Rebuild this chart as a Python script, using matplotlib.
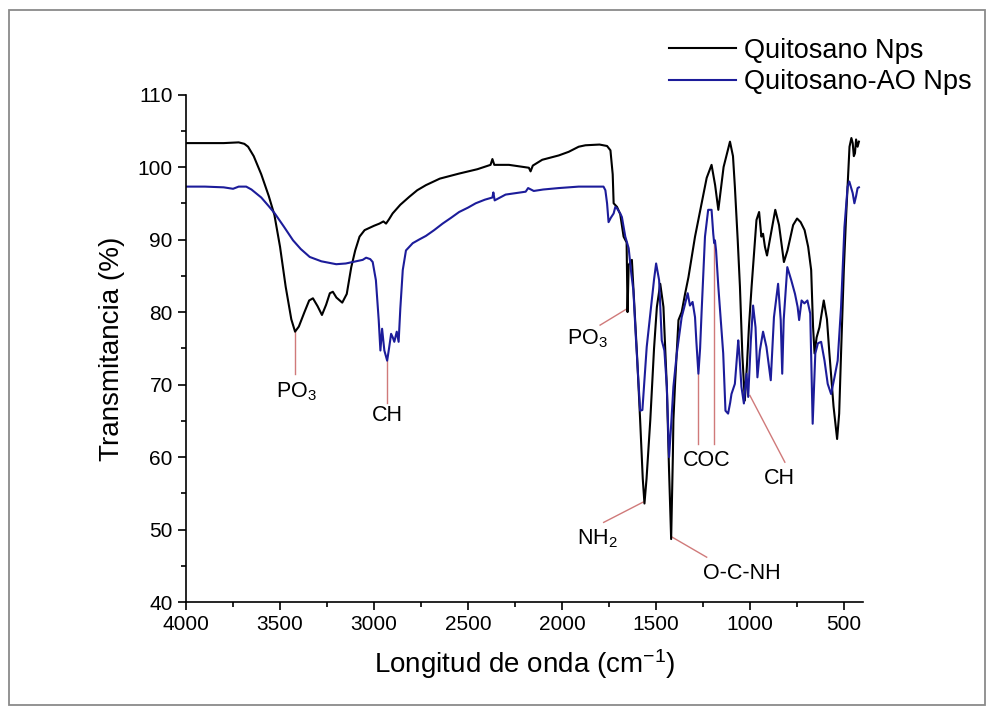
import matplotlib
matplotlib.use("Agg")
import matplotlib.pyplot as plt
from matplotlib.patches import Rectangle
from matplotlib.ticker import MultipleLocator

plt.rcParams['font.family'] = ['Liberation Sans', 'DejaVu Sans']
plt.rcParams['mathtext.fontset'] = 'custom'
plt.rcParams['mathtext.rm'] = 'Liberation Sans'
plt.rcParams['mathtext.it'] = 'Liberation Sans:italic'

# Quitosano Nps (black) - wavenumber (cm-1) / transmittance (%)
black_w = [4000, 3900, 3800, 3720, 3690, 3670, 3640, 3600, 3560, 3530, 3500, 3470,
           3440, 3420, 3400, 3370, 3345, 3325, 3300, 3277, 3255, 3235, 3219, 3200,
           3169, 3145, 3121, 3100, 3077, 3050, 3033, 3000, 2971, 2950, 2936, 2920,
           2901, 2860, 2812, 2770, 2724, 2650, 2547, 2450, 2380, 2370, 2360, 2282,
           2200, 2176, 2167, 2155, 2105, 2060, 2017, 1964, 1911, 1875, 1800, 1760,
           1742, 1730, 1725, 1707, 1690, 1672, 1656, 1651, 1645, 1628, 1615, 1601,
           1584, 1570, 1561, 1550, 1530, 1510, 1495, 1477, 1460, 1442, 1430, 1419,
           1410, 1407, 1398, 1380, 1363, 1345, 1327, 1292, 1257, 1230, 1204, 1185,
           1168, 1140, 1106, 1090, 1080, 1065, 1053, 1040, 1027, 1015, 1005, 991,
           965, 951, 939, 930, 920, 909, 890, 865, 845, 819, 800, 770,
           749, 730, 709, 690, 674, 664, 656, 645, 630, 607, 590, 577,
           555, 536, 525, 515, 500, 489, 470, 460, 453, 447, 441, 435,
           427, 420]
black_t = [103.3, 103.3, 103.3, 103.4, 103.2, 102.8, 101.5, 99.0, 96.0, 93.4, 89.0, 83.5,
           79.0, 77.3, 78.0, 80.0, 81.6, 81.9, 80.8, 79.6, 81.0, 82.6, 82.8, 82.0,
           81.3, 82.5, 86.2, 88.5, 90.4, 91.3, 91.5, 91.9, 92.2, 92.5, 92.2, 92.8,
           93.6, 94.8, 95.9, 96.8, 97.5, 98.4, 99.1, 99.7, 100.3, 101.1, 100.3, 100.3,
           100.0, 99.9, 99.4, 100.2, 101.0, 101.3, 101.6, 102.1, 102.8, 103.0, 103.1, 102.9,
           102.3, 99.0, 95.0, 94.5, 93.5, 90.4, 89.6, 80.0, 86.5, 87.2, 81.0, 74.3,
           65.1, 57.0, 53.6, 57.0, 65.1, 75.0, 80.7, 83.9, 80.7, 69.7, 58.0, 48.7,
           60.0, 65.1, 70.2, 78.9, 80.0, 82.5, 84.8, 90.4, 95.0, 98.5, 100.3, 97.5,
           94.1, 100.0, 103.5, 101.5, 97.3, 90.0, 83.5, 74.0, 67.8, 73.0, 78.0, 83.5,
           92.7, 93.8, 90.4, 90.8, 89.0, 87.8, 90.5, 94.1, 92.0, 86.9, 88.5, 92.0,
           92.9, 92.4, 91.3, 89.0, 85.8, 78.0, 74.3, 76.5, 77.9, 81.6, 79.0, 74.3,
           67.0, 62.5, 66.0, 74.3, 86.0, 92.7, 102.8, 104.0, 103.3, 101.5, 101.9, 103.8,
           102.8, 103.5]

# Quitosano-AO Nps (blue)
blue_w = [4000, 3900, 3800, 3750, 3720, 3680, 3652, 3600, 3560, 3528, 3480, 3431,
          3390, 3342, 3280, 3201, 3150, 3113, 3060, 3042, 3020, 3007, 2990, 2975,
          2966, 2957, 2950, 2945, 2930, 2920, 2909, 2900, 2892, 2879, 2869, 2860,
          2847, 2830, 2794, 2760, 2724, 2680, 2635, 2590, 2547, 2500, 2459, 2410,
          2370, 2365, 2358, 2300, 2193, 2180, 2150, 2100, 2017, 1911, 1800, 1779,
          1769, 1760, 1752, 1740, 1725, 1716, 1707, 1690, 1681, 1663, 1645, 1631,
          1620, 1607, 1593, 1584, 1572, 1560, 1549, 1526, 1510, 1499, 1483, 1469,
          1455, 1442, 1430, 1420, 1407, 1389, 1363, 1349, 1331, 1319, 1305, 1292,
          1285, 1274, 1265, 1257, 1239, 1222, 1204, 1195, 1190, 1186, 1180, 1168,
          1142, 1130, 1116, 1105, 1098, 1080, 1062, 1057, 1045, 1032, 1018, 1009,
          995, 983, 970, 960, 947, 930, 912, 889, 872, 850, 836, 828,
          820, 801, 780, 760, 746, 738, 725, 710, 694, 679, 666, 652,
          638, 621, 603, 586, 568, 550, 533, 515, 497, 480, 471, 462,
          453, 444, 435, 427, 420]
blue_t = [97.3, 97.3, 97.2, 97.0, 97.3, 97.3, 96.9, 95.8, 94.6, 93.6, 91.8, 89.9,
          88.7, 87.6, 87.0, 86.6, 86.7, 86.9, 87.2, 87.5, 87.3, 86.9, 84.4, 78.9,
          74.7, 77.7, 76.0, 74.7, 73.3, 75.0, 77.0, 76.5, 75.9, 77.3, 75.9, 80.5,
          85.8, 88.5, 89.5, 90.0, 90.5, 91.3, 92.2, 93.0, 93.8, 94.4, 95.0, 95.5,
          95.8, 96.5, 95.4, 96.2, 96.6, 97.1, 96.7, 96.9, 97.1, 97.3, 97.3, 97.3,
          96.8, 95.0, 92.4, 93.0, 93.6, 94.5, 94.3, 93.6, 93.1, 90.4, 88.8, 85.3,
          83.0, 76.6, 70.5, 66.4, 66.5, 71.0, 75.2, 80.7, 84.5, 86.7, 84.4, 76.1,
          74.7, 69.7, 60.0, 64.0, 69.7, 74.3, 79.3, 80.7, 82.6, 80.9, 81.4, 79.3,
          76.0, 71.5, 75.0, 80.0, 90.4, 94.1, 94.1, 90.8, 89.5, 89.9, 88.5, 83.5,
          74.3, 66.4, 66.0, 67.5, 68.7, 70.1, 76.1, 74.5, 69.7, 67.4, 71.5, 68.3,
          76.1, 80.9, 77.9, 71.0, 74.7, 77.3, 75.2, 70.6, 79.3, 83.9, 78.9, 71.5,
          79.0, 86.2, 84.4, 82.5, 80.7, 78.9, 81.6, 81.2, 81.6, 79.8, 64.6, 74.3,
          75.7, 75.9, 73.3, 70.1, 68.7, 71.0, 73.3, 80.7, 91.7, 97.3, 98.0, 97.2,
          96.4, 95.0, 96.0, 97.1, 97.2]

series_labels = ['Quitosano Nps', 'Quitosano-AO Nps']

# band assignments: label, text position, leader segments
band_labels = ['PO$_3$', 'CH', 'PO$_3$', 'NH$_2$', 'O-C-NH', 'COC', 'CH']
band_text_xy = [(3413, 69.0), (2929, 65.8), (1866, 76.3), (1813, 48.8),
                (1044, 43.9), (1230, 59.5), (841, 57.0)]
band_segments = [
    [((3420, 77.3), (3420, 71.5))],
    [((2930, 73.3), (2930, 67.4))],
    [((1651, 80.5), (1797, 78.2))],
    [((1568, 53.8), (1778, 51.0))],
    [((1416, 49.0), (1230, 46.2))],
    [((1274, 71.5), (1274, 61.8)), ((1190, 89.5), (1190, 61.8))],
    [((1000, 68.5), (814, 59.3))],
]

fig = plt.figure(figsize=(9.95, 7.16), dpi=100)
ax = fig.add_axes([0.187, 0.159, 0.68, 0.709])

l1, = ax.plot(black_w, black_t, color='black', lw=1.5, label=series_labels[0])
l2, = ax.plot(blue_w, blue_t, color='#1c1c9a', lw=1.5, label=series_labels[1])

red = '#d07a7a'
for lab, (tx, ty), segs in zip(band_labels, band_text_xy, band_segments):
    for (x0, y0), (x1, y1) in segs:
        ax.plot([x0, x1], [y0, y1], color=red, lw=1.0, zorder=1)
    ax.text(tx, ty, lab, ha='center', va='center', fontsize=15.5)

ax.set_xlim(4000, 400)
ax.set_ylim(40, 110)
ax.xaxis.set_major_locator(MultipleLocator(500))
ax.xaxis.set_minor_locator(MultipleLocator(250))
ax.yaxis.set_major_locator(MultipleLocator(10))
ax.yaxis.set_minor_locator(MultipleLocator(5))
ax.tick_params(which='major', direction='out', length=6, width=1.2, labelsize=15)
ax.tick_params(which='minor', direction='out', length=3.5, width=1.2)
for s in ['top', 'right']:
    ax.spines[s].set_visible(False)
for s in ['left', 'bottom']:
    ax.spines[s].set_linewidth(1.2)

ax.set_xlabel('Longitud de onda (cm$^{-1}$)', fontsize=20, labelpad=9)
ax.set_ylabel('Transmitancia (%)', fontsize=20, labelpad=9)

fig.legend(handles=[l1, l2], loc='upper left', bbox_to_anchor=(0.672, 0.947),
           frameon=False, fontsize=19.5, handlelength=2.5, handletextpad=0.3,
           labelspacing=0.2, borderpad=0, borderaxespad=0)

fig.add_artist(Rectangle((0.009, 0.015), 0.981, 0.971, transform=fig.transFigure,
                         fill=False, edgecolor='#8a8a8a', lw=1.3))

fig.savefig('out.png', dpi=100)
